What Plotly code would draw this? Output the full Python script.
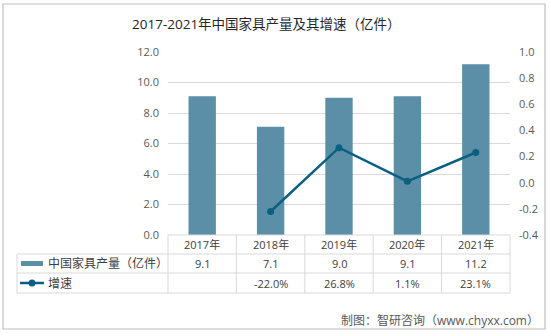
import plotly.graph_objects as go

# Chart data
years = ["2017年", "2018年", "2019年", "2020年", "2021年"]
output = [9.1, 7.1, 9.0, 9.1, 11.2]          # 中国家具产量（亿件）
growth = [None, -22.0, 26.8, 1.1, 23.1]      # 增速（%）
left_ticks = [0, 2, 4, 6, 8, 10, 12]
right_ticks = [-0.4, -0.2, 0.0, 0.2, 0.4, 0.6, 0.8, 1.0]

W, H = 550, 335
L, R, T, B = 168, 40, 52, 100

BAR_COLOR = "#5b8fa7"
LINE_COLOR = "#0b5f82"
GRID = "#d9d9d9"
TXT = "#404040"
FONT = "Open Sans, Noto Sans CJK SC, sans-serif"

fig = go.Figure()
fig.add_trace(go.Bar(
    x=years, y=output, marker=dict(color=BAR_COLOR, line=dict(width=0)),
    width=0.4, yaxis="y", showlegend=False,
))
fig.add_trace(go.Scatter(
    x=years, y=[None if g is None else g / 100 for g in growth],
    mode="lines+markers", yaxis="y2", showlegend=False,
    line=dict(color=LINE_COLOR, width=2.5),
    marker=dict(color=LINE_COLOR, size=7),
))

# pixel -> paper helpers
pw, ph = W - L - R, H - T - B
def px(x):
    return (x - L) / pw
def py(y):
    return (H - B - y) / ph

shapes = []
def hline(x0, x1, y, color=GRID):
    shapes.append(dict(type="line", xref="paper", yref="paper",
                       x0=px(x0), x1=px(x1), y0=py(y), y1=py(y),
                       line=dict(color=color, width=1)))
def vline(x, y0, y1, color=GRID):
    shapes.append(dict(type="line", xref="paper", yref="paper",
                       x0=px(x), x1=px(x), y0=py(y0), y1=py(y1),
                       line=dict(color=color, width=1)))

# data table under the plot
top, r1, r2, r3 = 235, 254, 273, 293
left_tab, right_tab = 17, W - R
hline(L, right_tab, top)
for yy in (r1, r2, r3):
    hline(left_tab, right_tab, yy)
vline(left_tab, r1, r3)
n = len(years)
for k in range(n + 1):
    vline(L + pw * k / n, top, r3)

# outer frame
shapes.append(dict(type="rect", xref="paper", yref="paper",
                   x0=px(3), x1=px(545), y0=py(4), y1=py(329),
                   line=dict(color="#bfbfbf", width=1.2)))

# legend swatches inside the table
shapes.append(dict(type="rect", xref="paper", yref="paper",
                   x0=px(21), x1=px(43), y0=py(266), y1=py(261),
                   fillcolor=BAR_COLOR, line=dict(width=0)))
shapes.append(dict(type="line", xref="paper", yref="paper",
                   x0=px(20), x1=px(44), y0=py(283), y1=py(283),
                   line=dict(color=LINE_COLOR, width=2.5)))
shapes.append(dict(type="circle", xref="paper", yref="paper",
                   x0=px(28.5), x1=px(35.5), y0=py(286.5), y1=py(279.5),
                   fillcolor=LINE_COLOR, line=dict(width=0)))

ann = []
def text(x, y, s, size=11, xanchor="center", xref="paper", color=TXT):
    ann.append(dict(x=x, y=py(y), xref=xref, yref="paper", text=s,
                    showarrow=False, xanchor=xanchor, yanchor="middle",
                    font=dict(size=size, color=color, family=FONT)))

for i, yr in enumerate(years):
    text(yr, (top + r1) / 2, yr, xref="x")
    text(yr, (r1 + r2) / 2, f"{output[i]:.1f}", xref="x")
    if growth[i] is not None:
        text(yr, (r2 + r3) / 2, f"{growth[i]:.1f}%", xref="x")

text(px(46), (r1 + r2) / 2, "中国家具产量（亿件）", size=12, xanchor="left")
text(px(46), (r2 + r3) / 2, "增速", size=12, xanchor="left")
text(px(541), 320, "制图：智研咨询（www.chyxx.com）", size=12, xanchor="right", color="#595959")
text(px(266), 24, "2017-2021年中国家具产量及其增速（亿件）", size=13.5, color="#262626")

fig.update_layout(
    width=W, height=H,
    margin=dict(l=L, r=R, t=T, b=B),
    paper_bgcolor="white", plot_bgcolor="white",
    font=dict(family=FONT, color="#595959", size=11),
    bargap=0.6,
    xaxis=dict(showticklabels=False, showgrid=False, zeroline=False,
               showline=False, ticks=""),
    yaxis=dict(range=[0, 12], tickvals=left_ticks,
               ticktext=[f"{v:.1f}" for v in left_ticks],
               showgrid=True, gridcolor=GRID, gridwidth=1, zeroline=False,
               showline=False, ticks="", ticklabelstandoff=8),
    yaxis2=dict(range=[-0.4, 1.0], tickvals=right_ticks,
                ticktext=[f"{v:.1f}" for v in right_ticks],
                overlaying="y", side="right", showgrid=False,
                zeroline=False, showline=False, ticks="", ticklabelstandoff=8),
    shapes=shapes, annotations=ann,
)

fig.write_html("out.html")
